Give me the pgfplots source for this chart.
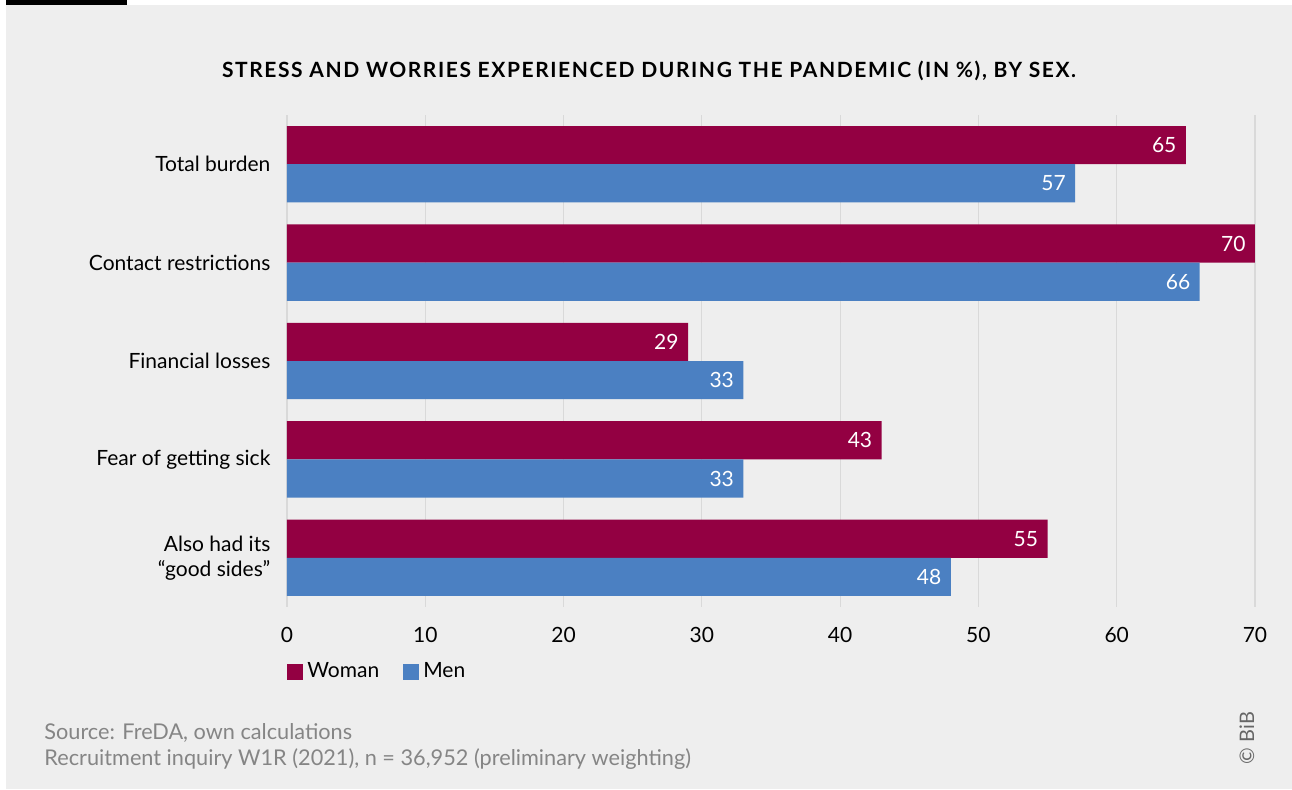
\documentclass[border=0pt]{standalone}
\usepackage{fontspec}
\setmainfont{Lato}
\usepackage{pgfplots}
\pgfplotsset{compat=1.18}
\definecolor{bg}{HTML}{EEEEEE}
\definecolor{woman}{HTML}{930042}
\definecolor{men}{HTML}{4B80C2}
\definecolor{gridc}{HTML}{D9D9D9}
\definecolor{srcgray}{HTML}{858585}
\begin{document}
\begin{tikzpicture}
\fill[white] (0,0) rectangle (646pt,-394.5pt);
\fill[bg] (3pt,-2.5pt) rectangle (646pt,-394.5pt);
\fill[black] (3pt,0) rectangle (63.5pt,-2.5pt);
\node[font=\bfseries\fontsize{10.5}{12}\selectfont\addfontfeature{LetterSpace=7.5}, inner sep=0] at (324.5pt,-35.5pt) {STRESS AND WORRIES EXPERIENCED DURING THE PANDEMIC (IN \%), BY SEX.};
\begin{axis}[
 at={(143.5pt,-303.5pt)}, anchor=south west,
 scale only axis, width=484pt, height=246pt,
 xmin=0, xmax=70, ymin=-0.5, ymax=4.5, y dir=reverse,
 xtick={0,10,...,70}, ytick={0,...,4},
 yticklabels={Total burden, Contact restrictions, Financial losses, Fear of getting sick, {Also had its\\“good sides”}},
 yticklabel style={align=right, font=\fontsize{10.5}{12.6}\selectfont, xshift=-0.5pt},
 xticklabel style={font=\fontsize{10.5}{12.6}\selectfont, yshift=-6.5pt},
 /pgf/number format/assume math mode=true,
 xmajorgrids, grid style={gridc, line width=0.6pt},
 axis line style={draw=none}, major tick style={draw=none},
 xbar, bar width=0.388,
 point meta=x,
 nodes near coords={\pgfmathprintnumber\pgfplotspointmeta},
 nodes near coords style={anchor=east, text=white, font=\fontsize{10.5}{12.6}\selectfont, xshift=-1.2pt},
 legend style={at={(0,-0.132)}, anchor=west, draw=none, fill=none, legend columns=2, inner sep=0pt,
   font=\fontsize{10.5}{12.6}\selectfont, /tikz/every even column/.append style={column sep=10pt}},
 legend image code/.code={\fill[#1] (0pt,-4pt) rectangle (8pt,4pt);},
]
\addplot[fill=woman, draw=none, bar shift=-0.194] coordinates {(65,0) (70,1) (29,2) (43,3) (55,4)};
\addplot[fill=men, draw=none, bar shift=0.194] coordinates {(57,0) (66,1) (33,2) (33,3) (48,4)};
\legend{Woman, Men}
\end{axis}
\node[anchor=base west, srcgray, font=\fontsize{10.85}{12}\selectfont, inner sep=0] at (22pt,-369.75pt) {Source: FreDA, own calculations};
\node[anchor=base west, srcgray, font=\fontsize{10.85}{12}\selectfont, inner sep=0] at (22pt,-382.5pt) {Recruitment inquiry W1R (2021), n = 36,952 (preliminary weighting)};
\node[rotate=90, color=black!60, font=\fontsize{10}{12}\selectfont, inner sep=0] at (623.5pt,-369pt) {© BiB};
\end{tikzpicture}
\end{document}
